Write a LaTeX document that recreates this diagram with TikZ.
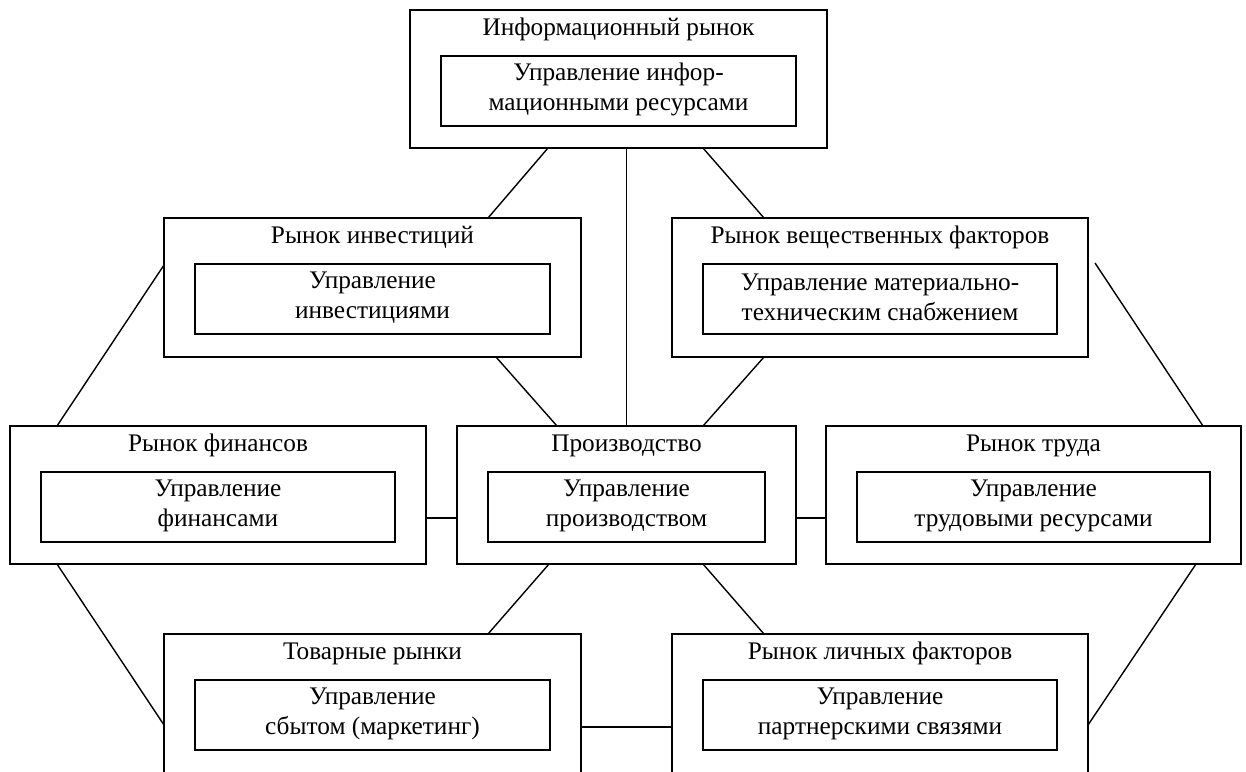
\documentclass[tikz,border=0pt]{standalone}
\usepackage{fontspec}
\setmainfont{Liberation Serif}
\tikzset{
  outerbox/.style={draw, line width=1.6pt, rectangle, inner sep=0pt, outer sep=0pt, anchor=north west},
  innerbox/.style={draw, line width=1.6pt, rectangle, inner sep=0pt, outer sep=0pt, anchor=north west},
  titletext/.style={inner sep=0pt, anchor=base, font=\fontsize{25.3pt}{30pt}\selectfont},
  bodytext/.style={inner sep=0pt, anchor=center, align=center, font=\fontsize{25.3pt}{30pt}\selectfont},
  conn/.style={line width=1.4pt}
}
\newcommand{\mkbox}[7]{%
  \node[outerbox, minimum width=#4pt, minimum height=#5pt] (#1) at (#2,#3) {};
  \node[innerbox, minimum width=#4pt-62pt, minimum height=70pt] (#1in) at ([xshift=31pt,yshift=-46pt]#1.north west) {};
  \node[titletext] (#1t) at ([yshift=-25.8pt]#1.north) {#6};
  \node[bodytext] (#1x) at ([yshift=1.5pt]#1in.center) {#7};
}
\begin{document}
\begin{tikzpicture}[x=1pt,y=-1pt]
\useasboundingbox (0,0) rectangle (1246,771);
\clip (0,0) rectangle (1246,771);
\mkbox{info}{410}{10}{417}{138}{Информационный рынок}{Управление инфор-\\мационными ресурсами}
\mkbox{inv}{164}{218}{417}{139}{Рынок инвестиций}{Управление\\инвестициями}
\mkbox{ves}{672}{218}{416}{139}{Рынок вещественных факторов}{Управление материально-\\техническим снабжением}
\mkbox{fin}{10}{426}{416}{138}{Рынок финансов}{Управление\\финансами}
\mkbox{prod}{457}{426}{339}{138}{Производство}{Управление\\производством}
\mkbox{lab}{826}{426}{415}{138}{Рынок труда}{Управление\\трудовыми ресурсами}
\mkbox{com}{164}{634}{417}{150}{Товарные рынки}{Управление\\сбытом (маркетинг)}
\mkbox{per}{672}{634}{416}{150}{Рынок личных факторов}{Управление\\партнерскими связями}
\coordinate (vesfree) at ([xshift=7pt,yshift=-45pt]ves.north east);
% connectors
\draw[conn] ([xshift=138pt]info.south west) -- ([xshift=324pt]inv.north west);
\draw[conn] (info.south -| prod.north) -- (prod.north);
\draw[conn] ([xshift=293pt]info.south west) -- ([xshift=92pt]ves.north west);
\draw[conn] ([yshift=-47pt]inv.north west) -- ([xshift=47pt]fin.north west);
\draw[conn] (vesfree) -- ([xshift=377pt]lab.north west);
\draw[conn] ([xshift=332pt]inv.south west) -- ([xshift=100pt]prod.north west);
\draw[conn] ([xshift=92pt]ves.south west) -- ([xshift=246pt]prod.north west);
\draw[conn] ([yshift=-23pt]fin.east) -- ([yshift=-23pt]prod.west);
\draw[conn] ([yshift=-23pt]prod.east) -- ([yshift=-23pt]lab.west);
\draw[conn] ([xshift=47pt]fin.south west) -- ([yshift=-91pt]com.north west);
\draw[conn] ([xshift=370pt]lab.south west) -- ([yshift=-91pt]per.north east);
\draw[conn] ([xshift=92pt]prod.south west) -- ([xshift=324pt]com.north west);
\draw[conn] ([xshift=246pt]prod.south west) -- ([xshift=92pt]per.north west);
\draw[conn] ([yshift=-93pt]com.north east) -- ([yshift=-93pt]per.north west);
\end{tikzpicture}
\end{document}
